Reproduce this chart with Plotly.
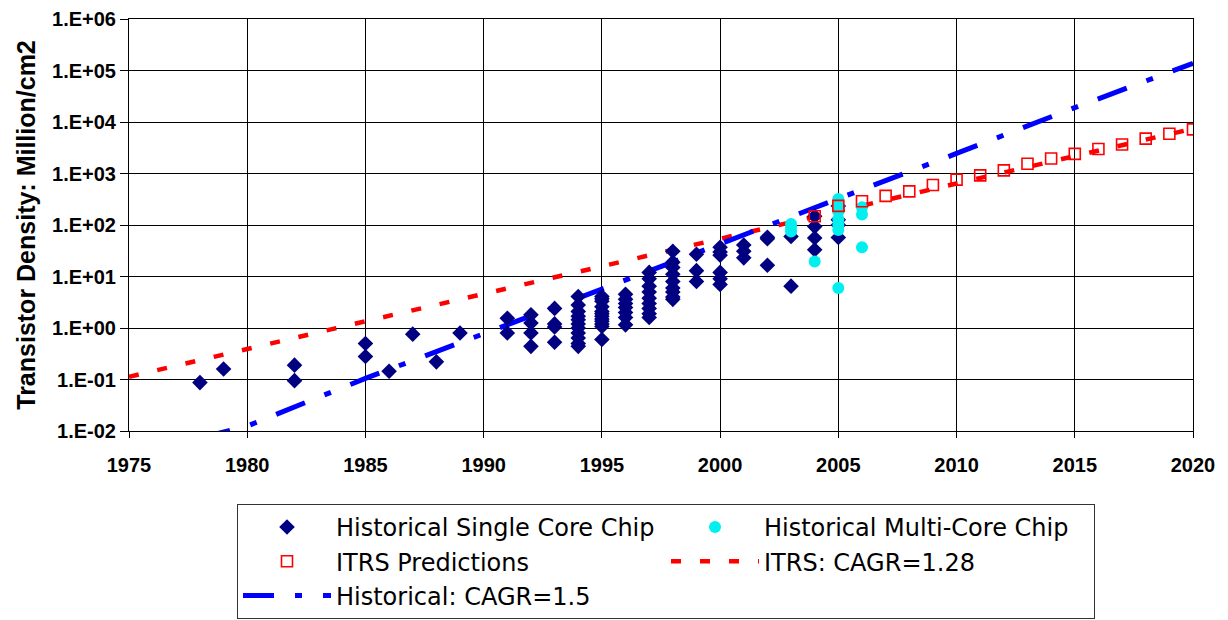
import plotly.graph_objects as go

# ---------------- data ----------------
single_years = [1978, 1979, 1982, 1982, 1985, 1985, 1986, 1987, 1988, 1989,
                1991, 1991,
                1992, 1992, 1992, 1992,
                1993, 1993, 1993, 1993,
                1994, 1994, 1994, 1994, 1994, 1994, 1994, 1994, 1994, 1994, 1994,
                1995, 1995, 1995, 1995, 1995, 1995, 1995, 1995, 1995, 1995, 1995, 1995,
                1996, 1996, 1996, 1996, 1996, 1996, 1996,
                1997, 1997, 1997, 1997, 1997, 1997, 1997, 1997, 1997,
                1998, 1998, 1998, 1998, 1998, 1998, 1998, 1998, 1998,
                1999, 1999, 1999,
                2000, 2000, 2000, 2000, 2000, 2000,
                2001, 2001, 2001,
                2002, 2002, 2002,
                2003, 2003,
                2004, 2004, 2004, 2004,
                2005, 2005, 2005, 2005]
single_vals = [0.087, 0.16, 0.19, 0.095, 0.5, 0.28, 0.145, 0.76, 0.22, 0.8,
               1.55, 0.8,
               1.8, 1.25, 0.8, 0.44,
               2.4, 1.2, 1.05, 0.53,
               4.1, 2.8, 2.1, 1.7, 1.45, 1.2, 1.0, 0.8, 0.64, 0.5, 0.44,
               4.1, 3.7, 3.3, 2.6, 2.1, 1.9, 1.7, 1.5, 1.35, 1.2, 1.07, 0.6,
               4.5, 3.6, 3.0, 2.5, 2.0, 1.6, 1.15,
               12, 9, 6.5, 5, 3.8, 3, 2.4, 1.9, 1.6,
               31, 19, 15, 11, 8, 6, 5, 4, 3.6,
               27, 13, 8,
               37, 30, 26, 12, 9, 7,
               41, 31, 23,
               58, 54, 16.5,
               60, 6.5,
               148, 93, 56, 33,
               234, 126, 100, 57]

multi_years = [2003, 2003, 2003, 2004,
               2005, 2005, 2005, 2005, 2005, 2005, 2005,
               2006, 2006, 2006]
multi_vals = [105, 90, 75, 19.5,
              320, 240, 180, 130, 100, 80, 6,
              220, 160, 37]

itrs_years = list(range(2004, 2021))
itrs_vals = [148, 235, 290, 368, 450, 600, 760, 920, 1150, 1550, 1950,
             2400, 3000, 3650, 4750, 5900, 7200]

itrs_trend_years = [1975, 1980, 1985, 1990, 1995, 2000, 2005, 2010, 2015, 2020]
itrs_trend_vals = [0.113, 0.40, 1.35, 4.6, 15.5, 53, 185, 640, 2200, 7400]

hist_trend_years = [1978, 1980, 1985, 1990, 1995, 2000, 2005, 2010, 2015, 2020]
hist_trend_vals = [0.0073, 0.0125, 0.105, 0.76, 5.7, 43, 320, 2450, 19000, 138000]

y_tickvals = [1e-2, 1e-1, 1e0, 1e1, 1e2, 1e3, 1e4, 1e5, 1e6]
y_ticktext = ["1.E-02", "1.E-01", "1.E+00", "1.E+01", "1.E+02",
              "1.E+03", "1.E+04", "1.E+05", "1.E+06"]

# ---------------- figure ----------------
fig = go.Figure()

fig.add_trace(go.Scatter(
    x=itrs_trend_years, y=itrs_trend_vals, mode="lines",
    name="ITRS: CAGR=1.28", legendrank=4,
    line=dict(color="#FF0000", width=4.5, dash="10px,19px")))

fig.add_trace(go.Scatter(
    x=hist_trend_years, y=hist_trend_vals, mode="lines",
    name="Historical: CAGR=1.5", legendrank=5,
    line=dict(color="#0000FF", width=5, dash="31px,21px,7px,21px")))

fig.add_trace(go.Scatter(
    x=single_years, y=single_vals, mode="markers",
    name="Historical Single Core Chip", legendrank=1,
    marker=dict(symbol="diamond", size=12, color="#000080",
                line=dict(width=0))))

fig.add_trace(go.Scatter(
    x=multi_years, y=multi_vals, mode="markers",
    name="Historical Multi-Core Chip", legendrank=2,
    marker=dict(symbol="circle", size=12, color="#00F0F0",
                line=dict(width=0))))

fig.add_trace(go.Scatter(
    x=itrs_years, y=itrs_vals, mode="markers",
    name="ITRS Predictions", legendrank=3,
    marker=dict(symbol="square-open", size=11, color="#FF0000",
                line=dict(width=1.6, color="#FF0000"))))

axis_font = dict(family="Liberation Sans, Arial, sans-serif", size=20,
                 color="#000000", weight="bold")

fig.update_layout(
    width=1228, height=620,
    margin=dict(l=129, r=35, t=19, b=189, autoexpand=False),
    paper_bgcolor="white", plot_bgcolor="white",
    showlegend=True,
    legend=dict(
        orientation="h",
        x=0.1015, xanchor="left",
        y=-0.177, yanchor="top",
        itemwidth=88,
        entrywidth=325,
        font=dict(family="DejaVu Sans, sans-serif", size=24, color="#000000"),
        bordercolor="#333333", borderwidth=1,
        bgcolor="white",
        traceorder="normal",
    ),
    xaxis=dict(
        range=[1975, 2020], tick0=1975, dtick=5,
        showgrid=True, gridcolor="#000000", gridwidth=1,
        showline=True, linecolor="#000000", linewidth=1, mirror=True,
        ticks="outside", ticklen=6, tickcolor="#000000",
        tickfont=axis_font, zeroline=False,
        ticklabelstandoff=10,
    ),
    yaxis=dict(
        type="log", range=[-2, 6],
        tickvals=y_tickvals, ticktext=y_ticktext,
        showgrid=True, gridcolor="#000000", gridwidth=1,
        showline=True, linecolor="#000000", linewidth=1, mirror=True,
        ticks="outside", ticklen=8, tickcolor="#000000",
        tickfont=axis_font, zeroline=False,
        title=dict(text="Transistor Density: Million/cm2",
                   font=dict(family="Liberation Sans, Arial, sans-serif",
                             size=25, color="#000000", weight="bold"),
                   standoff=9),
    ),
)

fig.write_html("out.html")
